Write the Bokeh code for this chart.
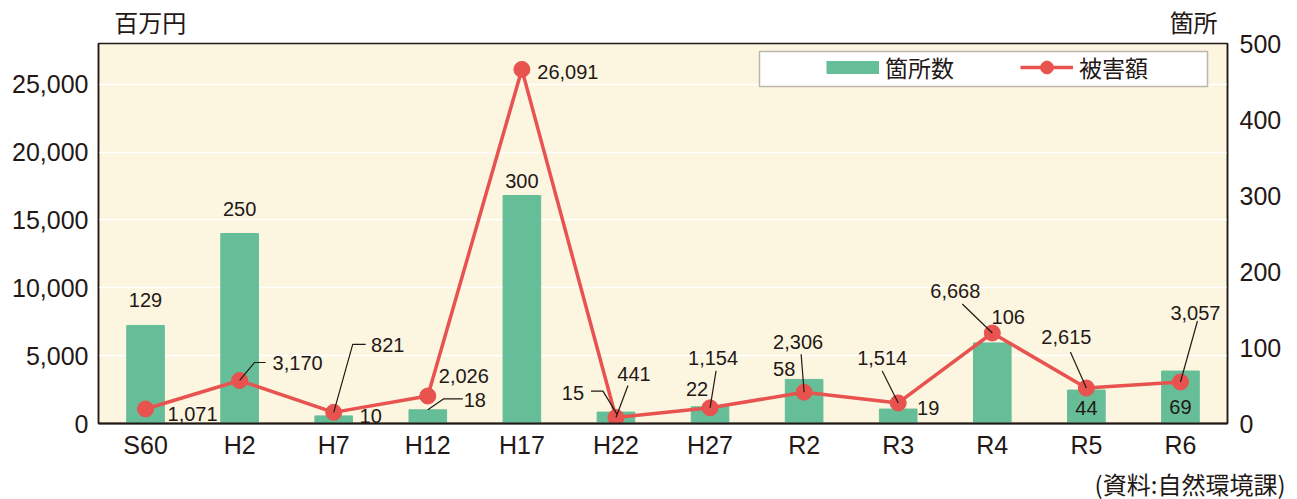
from bokeh.plotting import figure
from bokeh.models import (Range1d, LinearAxis, FixedTicker, NumeralTickFormatter,
                          Legend, LegendItem, BoxAnnotation, Title)
from bokeh.core.properties import value
from bokeh.embed import file_html
from bokeh.resources import INLINE

# ---------------- data ----------------
categories = ["S60", "H2", "H7", "H12", "H17", "H22", "H27", "R2", "R3", "R4", "R5", "R6"]
sites = [129, 250, 10, 18, 300, 15, 22, 58, 19, 106, 44, 69]          # 箇所数 (right axis)
damage = [1071, 3170, 821, 2026, 26091, 441, 1154, 2306, 1514, 6668, 2615, 3057]  # 被害額 (left axis)
left_ticks = [0, 5000, 10000, 15000, 20000, 25000]
right_ticks = [0, 100, 200, 300, 400, 500]
unit_left = "百万円"
unit_right = "箇所"
source_text = "(資料:自然環境課)"

# ---------------- layout constants ----------------
Y_MAX = 28000
R_MAX = 500
FW, FH = 1129, 380
FL, FT = 98, 43
FB = FT + FH
XPX = len(categories) / FW      # data x units per pixel
YPX = Y_MAX / FH                # left-axis units per pixel

GREEN = "#66BE98"
RED = "#E8534F"
INK = "#231815"
NUM_FONT = "Liberation Sans"
JP_FONT = "Noto Sans CJK JP"

# label offsets in pixels (dx right, dy up) relative to anchor
line_lab_dx = [47, 58, 54, 36, 46, 18, 3, -6, -16, -37, -20, 15]
line_lab_dy = [-5, 17, 67, 20, -3, 44, 50, 50, 45, 42, 51, 69]
line_leaders = [None, [(0, 0), (15, 18), (26, 18)], [(0, 0), (19, 68), (32, 68)], None, None,
                [(12, 32), (0, 0)], [(6, 37), (0, 0)], [(-3, 38), (0, 0)], [(-16, 32), (0, 0)],
                [(-30, 29), (0, 0)], [(-16, 36), (0, 0)], [(17, 61), (0, 0)]]
bar_lab_dx = [0, 0, 37, 47, 0, -43, -13, -20, 30, 16, 0, 0]
bar_lab_dy = [25, 25, 0, 10, 15, 19, 18, 10, 1, 26, -18, -36]
bar_leaders = [None, None, None, [(0, 0), (16, 11), (35, 11)], None,
               [(-25, 21), (-13, 21), (1, -2)], None, None, None, None, None, None]

xs = list(range(len(categories)))
W, H = 1297, 499

p = figure(width=W, height=H, output_backend="svg", toolbar_location=None,
           x_range=Range1d(-0.5, len(categories) - 0.5), y_range=Range1d(0, Y_MAX),
           frame_width=FW, frame_height=FH,
           min_border_left=FL, min_border_right=W - FL - FW, min_border_top=FT,
           min_border_bottom=H - FB)
p.extra_y_ranges = {"right": Range1d(0, R_MAX)}

p.background_fill_color = "#FCF6E1"
p.border_fill_color = "white"
p.outline_line_color = INK
p.outline_line_width = 1.5

# axes
p.xaxis.ticker = FixedTicker(ticks=xs)
p.xaxis.major_label_overrides = {i: c for i, c in enumerate(categories)}
p.yaxis.ticker = FixedTicker(ticks=left_ticks)
p.yaxis.formatter = NumeralTickFormatter(format="0,0")
ra = LinearAxis(y_range_name="right", ticker=FixedTicker(ticks=right_ticks))
p.add_layout(ra, "right")
for ax in p.axis:
    ax.major_tick_line_color = None
    ax.minor_tick_line_color = None
    ax.major_tick_out = 0
    ax.major_tick_in = 0
    ax.minor_tick_out = 0
    ax.minor_tick_in = 0
    ax.axis_line_color = INK
    ax.axis_line_width = 1.5
    ax.major_label_text_font = NUM_FONT
    ax.major_label_text_font_size = "25px"
    ax.major_label_text_color = INK
    ax.major_label_standoff = 10
p.xaxis.axis_line_width = 2
p.xaxis.major_label_standoff = 7
ra.major_label_standoff = 12

# unit labels above the frame, as an axis on top
ux = [0.05, 11.14]
top_axis = LinearAxis(ticker=FixedTicker(ticks=ux),
                      major_label_overrides={ux[0]: unit_left, ux[1]: unit_right},
                      axis_line_color=None, major_tick_line_color=None, minor_tick_line_color=None,
                      major_tick_out=0, major_tick_in=0, minor_tick_out=0, minor_tick_in=0,
                      major_label_text_font=JP_FONT, major_label_text_font_size="24px",
                      major_label_text_color=INK, major_label_standoff=5)
p.add_layout(top_axis, "above")

p.xgrid.visible = False
p.ygrid.ticker = FixedTicker(ticks=left_ticks)
p.ygrid.grid_line_color = "white"
p.ygrid.grid_line_width = 1.5

# bars and line
bars = p.vbar(x=xs, top=sites, width=0.4, color=GREEN, y_range_name="right")
ln = p.line(xs, damage, line_width=3.5, color=RED)
dots = p.scatter(xs, damage, size=16, color=RED)
bar_key = p.line(x=[float("nan")], y=[float("nan")], line_width=13, color=GREEN, line_cap="butt")

# leaders
lx, ly = [], []
for i in xs:
    for anchor_y, path in ((damage[i], line_leaders[i]), (sites[i] * Y_MAX / R_MAX, bar_leaders[i])):
        if path:
            lx.append([i + dx * XPX for dx, dy in path])
            ly.append([anchor_y + dy * YPX for dx, dy in path])
p.multi_line(lx, ly, line_color=INK, line_width=1.2)

# value labels
p.text([i + line_lab_dx[i] * XPX for i in xs], [damage[i] + line_lab_dy[i] * YPX for i in xs],
       text=[f"{v:,}" for v in damage], text_align="center", text_baseline="middle",
       text_font=value(NUM_FONT), text_font_size="20px", text_color=INK)
p.text([i + bar_lab_dx[i] * XPX for i in xs],
       [sites[i] * Y_MAX / R_MAX + bar_lab_dy[i] * YPX for i in xs],
       text=[f"{v:,}" for v in sites], text_align="center", text_baseline="middle",
       text_font=value(NUM_FONT), text_font_size="20px", text_color=INK)

# legend box + legend
box = BoxAnnotation(left=-0.5 + (759 - FL) * XPX, right=-0.5 + (1207 - FL) * XPX,
                    top=(FB - 51) * YPX, bottom=(FB - 86) * YPX,
                    fill_color="white", fill_alpha=1, line_color=INK, line_width=1.5)
p.add_layout(box)
legend = Legend(items=[LegendItem(label="箇所数", renderers=[bar_key]),
                       LegendItem(label="被害額", renderers=[ln, dots])],
                orientation="horizontal", location=(826 - FL, FB - 84),
                border_line_alpha=0, background_fill_alpha=0, padding=0, margin=0,
                glyph_width=53, glyph_height=32, label_standoff=6, spacing=66,
                label_text_font=JP_FONT, label_text_font_size="23px", label_text_color=INK)
p.add_layout(legend, "center")

# source note below
p.add_layout(Title(text=source_text, align="right", offset=-58, text_font=JP_FONT,
                   text_font_size="24px", text_font_style="normal", text_color=INK,
                   standoff=4), "below")

open("out.html", "w").write(file_html(p, INLINE))
